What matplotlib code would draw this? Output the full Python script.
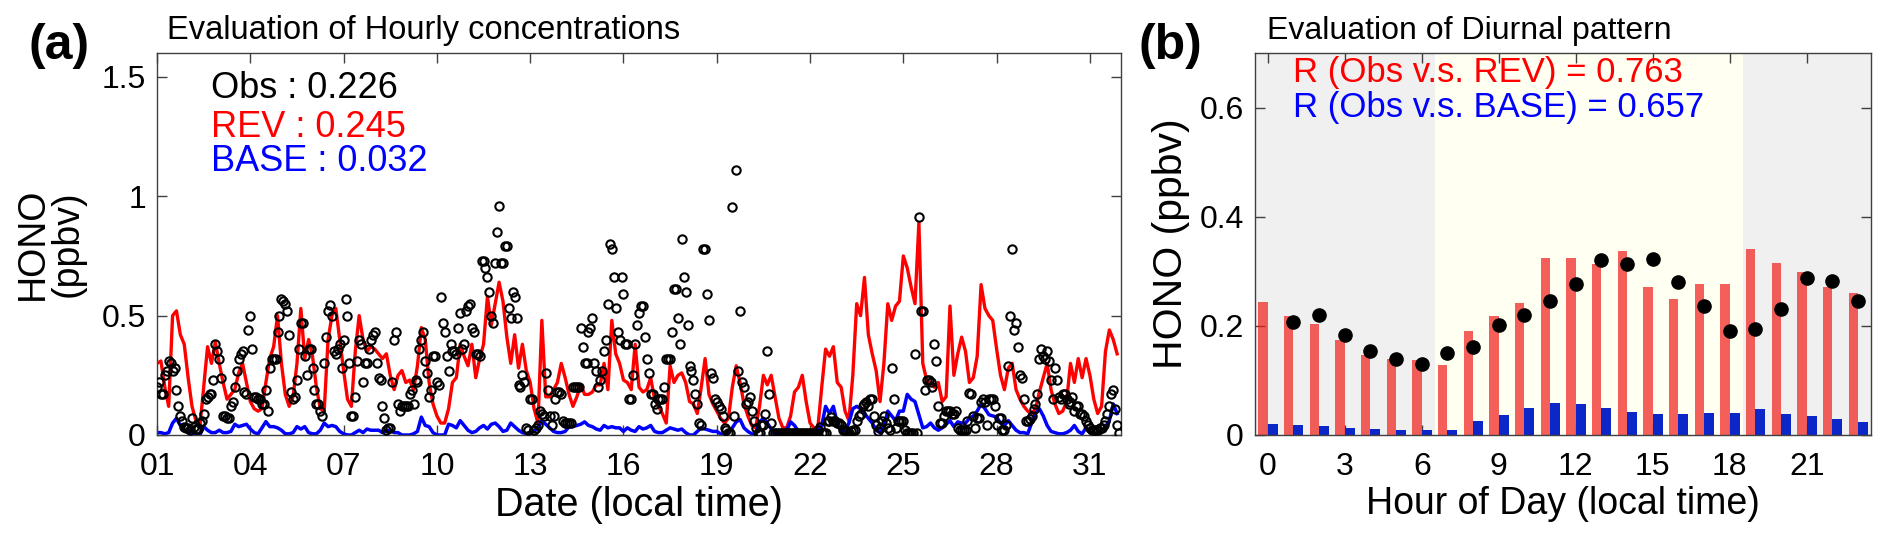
import numpy as np
import matplotlib
matplotlib.use("Agg")
import matplotlib.pyplot as plt

plt.rcParams['font.family'] = ['Liberation Sans', 'DejaVu Sans']

# ---------------- panel (a): hourly series, read every 3 h -----------------
days = list(range(1, 32))
hours3 = [0, 3, 6, 9, 12, 15, 18, 21]

rev = [
    [0.30, 0.31, 0.20, 0.12, 0.50, 0.52, 0.42, 0.38],
    [0.24, 0.12, 0.06, 0.03, 0.20, 0.37, 0.30, 0.39],
    [0.30, 0.22, 0.15, 0.17, 0.19, 0.26, 0.30, 0.22],
    [0.14, 0.11, 0.10, 0.11, 0.22, 0.32, 0.37, 0.50],
    [0.30, 0.17, 0.12, 0.16, 0.30, 0.53, 0.32, 0.40],
    [0.33, 0.20, 0.11, 0.10, 0.40, 0.50, 0.53, 0.40],
    [0.27, 0.15, 0.12, 0.35, 0.50, 0.40, 0.35, 0.37],
    [0.36, 0.34, 0.32, 0.34, 0.25, 0.19, 0.25, 0.27],
    [0.22, 0.23, 0.19, 0.29, 0.45, 0.40, 0.22, 0.13],
    [0.08, 0.05, 0.05, 0.11, 0.22, 0.24, 0.38, 0.33],
    [0.29, 0.38, 0.24, 0.32, 0.38, 0.58, 0.46, 0.55],
    [0.64, 0.56, 0.41, 0.30, 0.42, 0.28, 0.38, 0.27],
    [0.22, 0.11, 0.05, 0.48, 0.16, 0.16, 0.19, 0.22],
    [0.30, 0.24, 0.17, 0.12, 0.16, 0.21, 0.17, 0.17],
    [0.18, 0.21, 0.21, 0.30, 0.19, 0.48, 0.34, 0.30],
    [0.23, 0.22, 0.19, 0.38, 0.20, 0.18, 0.19, 0.24],
    [0.15, 0.12, 0.09, 0.05, 0.29, 0.22, 0.25, 0.26],
    [0.22, 0.14, 0.13, 0.09, 0.20, 0.32, 0.17, 0.13],
    [0.10, 0.07, 0.05, 0.07, 0.20, 0.29, 0.22, 0.13],
    [0.08, 0.04, 0.03, 0.12, 0.25, 0.21, 0.25, 0.16],
    [0.07, 0.03, 0.03, 0.08, 0.18, 0.20, 0.25, 0.14],
    [0.05, 0.03, 0.03, 0.20, 0.36, 0.33, 0.37, 0.22],
    [0.20, 0.10, 0.06, 0.25, 0.55, 0.50, 0.66, 0.42],
    [0.34, 0.27, 0.14, 0.30, 0.55, 0.48, 0.54, 0.56],
    [0.75, 0.70, 0.62, 0.55, 0.89, 0.30, 0.23, 0.22],
    [0.20, 0.22, 0.14, 0.16, 0.54, 0.25, 0.34, 0.41],
    [0.35, 0.22, 0.24, 0.33, 0.63, 0.53, 0.50, 0.48],
    [0.36, 0.25, 0.19, 0.28, 0.30, 0.19, 0.15, 0.12],
    [0.10, 0.09, 0.11, 0.18, 0.24, 0.30, 0.19, 0.13],
    [0.09, 0.10, 0.14, 0.30, 0.22, 0.32, 0.24, 0.32],
    [0.25, 0.15, 0.09, 0.12, 0.35, 0.44, 0.40, 0.34],
]

base = [
    [0.010, 0.010, 0.005, 0.010, 0.050, 0.070, 0.040, 0.020],
    [0.020, 0.005, 0.000, 0.000, 0.035, 0.020, 0.010, 0.010],
    [0.020, 0.010, 0.010, 0.015, 0.045, 0.035, 0.040, 0.045],
    [0.025, 0.010, 0.005, 0.030, 0.056, 0.035, 0.035, 0.030],
    [0.020, 0.005, 0.005, 0.010, 0.035, 0.025, 0.035, 0.010],
    [0.005, 0.005, 0.020, 0.050, 0.035, 0.040, 0.035, 0.015],
    [0.005, 0.000, 0.000, 0.010, 0.020, 0.010, 0.025, 0.020],
    [0.020, 0.020, 0.010, 0.020, 0.020, 0.010, 0.010, 0.000],
    [0.000, 0.000, 0.005, 0.015, 0.075, 0.040, 0.035, 0.010],
    [0.000, 0.000, 0.000, 0.045, 0.040, 0.030, 0.060, 0.040],
    [0.020, 0.010, 0.015, 0.030, 0.040, 0.025, 0.045, 0.050],
    [0.035, 0.015, 0.020, 0.050, 0.035, 0.020, 0.010, 0.005],
    [0.010, 0.015, 0.030, 0.060, 0.045, 0.030, 0.015, 0.010],
    [0.010, 0.015, 0.035, 0.035, 0.040, 0.045, 0.055, 0.040],
    [0.035, 0.025, 0.020, 0.040, 0.030, 0.035, 0.030, 0.030],
    [0.015, 0.030, 0.020, 0.015, 0.035, 0.025, 0.030, 0.040],
    [0.015, 0.010, 0.010, 0.020, 0.030, 0.025, 0.020, 0.025],
    [0.010, 0.000, 0.000, 0.015, 0.030, 0.025, 0.020, 0.015],
    [0.015, 0.005, 0.000, 0.010, 0.030, 0.055, 0.065, 0.030],
    [0.015, 0.005, 0.000, 0.055, 0.070, 0.050, 0.025, 0.005],
    [0.000, 0.010, 0.020, 0.055, 0.040, 0.015, 0.000, 0.000],
    [0.000, 0.000, 0.015, 0.040, 0.120, 0.090, 0.120, 0.050],
    [0.015, 0.020, 0.050, 0.110, 0.120, 0.110, 0.090, 0.070],
    [0.050, 0.020, 0.010, 0.035, 0.100, 0.080, 0.060, 0.100],
    [0.100, 0.170, 0.150, 0.140, 0.085, 0.030, 0.035, 0.050],
    [0.030, 0.020, 0.030, 0.045, 0.060, 0.035, 0.055, 0.050],
    [0.050, 0.070, 0.080, 0.100, 0.130, 0.110, 0.085, 0.080],
    [0.075, 0.050, 0.040, 0.060, 0.040, 0.020, 0.010, 0.010],
    [0.005, 0.050, 0.090, 0.110, 0.080, 0.040, 0.015, 0.010],
    [0.005, 0.005, 0.010, 0.020, 0.040, 0.015, 0.005, 0.030],
    [0.010, 0.005, 0.005, 0.010, 0.035, 0.060, 0.130, 0.090],
]

# observations on the 3-hour grid (hh:00) ...
obs = [
    [0.20, 0.17, 0.25, 0.31, 0.27, 0.19, 0.08, 0.035],
    [0.03, 0.07, 0.025, 0.05, 0.09, 0.16, 0.17, 0.38],
    [0.32, 0.08, 0.07, 0.12, 0.20, 0.32, 0.35, 0.17],
    [0.50, 0.16, 0.15, 0.13, 0.19, 0.28, 0.32, 0.43],
    [0.57, 0.55, 0.42, 0.15, 0.23, 0.47, 0.33, 0.36],
    [0.28, 0.13, 0.10, 0.30, 0.52, 0.50, 0.34, 0.38],
    [0.40, 0.50, 0.08, 0.16, 0.40, 0.22, 0.30, 0.40],
    [0.43, 0.24, 0.12, 0.02, 0.03, 0.40, 0.13, 0.12],
    [0.12, 0.17, 0.13, 0.22, 0.40, 0.31, 0.16, 0.33],
    [0.22, 0.58, 0.43, 0.27, 0.35, 0.34, 0.51, 0.38],
    [0.54, 0.45, 0.34, 0.33, 0.73, 0.66, 0.50, 0.72],
    [0.96, 0.72, 0.79, 0.49, 0.58, 0.21, 0.25, 0.03],
    [0.15, 0.02, 0.04, 0.09, 0.26, 0.08, 0.08, 0.18],
    [0.17, 0.05, 0.05, 0.20, 0.20, 0.45, 0.30, 0.43],
    [0.49, 0.27, 0.23, 0.35, 0.55, 0.78, 0.53, 0.40],
    [0.59, 0.38, 0.15, 0.38, 0.51, 0.54, 0.32, 0.17],
    [0.13, 0.15, 0.15, 0.32, 0.32, 0.61, 0.49, 0.82],
    [0.60, 0.29, 0.23, 0.13, 0.04, 0.78, 0.48, 0.24],
    [0.14, 0.11, 0.03, 0.01, 0.955, 1.11, 0.52, 0.20],
    [0.14, 0.10, 0.03, 0.01, 0.04, 0.35, 0.05, 0.01],
    [0.01, 0.01, 0.01, 0.01, 0.01, 0.01, 0.01, 0.01],
    [0.01, 0.01, 0.02, 0.01, 0.01, 0.06, 0.06, 0.05],
    [0.04, 0.02, 0.01, 0.02, 0.06, 0.09, 0.13, 0.12],
    [0.15, 0.04, 0.03, 0.08, 0.03, 0.28, 0.03, 0.06],
    [0.06, 0.01, 0.01, 0.34, 0.915, 0.52, 0.23, 0.22],
    [0.38, 0.12, 0.05, 0.10, 0.10, 0.09, 0.03, 0.02],
    [0.02, 0.175, 0.08, 0.07, 0.14, 0.14, 0.15, 0.15],
    [0.04, 0.07, 0.02, 0.29, 0.78, 0.47, 0.25, 0.15],
    [0.06, 0.08, 0.13, 0.32, 0.33, 0.35, 0.23, 0.28],
    [0.16, 0.17, 0.15, 0.14, 0.10, 0.12, 0.09, 0.06],
    [0.03, 0.02, 0.02, 0.03, 0.06, 0.12, 0.19, 0.04],
]

# ... and the circles in between (hh:30, 1.5 h later)
obs_mid = [
    [0.22, 0.17, 0.27, 0.30, 0.28, 0.12, 0.06, 0.03],
    [0.02, 0.035, 0.025, 0.06, 0.15, 0.17, 0.23, 0.35],
    [0.24, 0.08, 0.07, 0.14, 0.27, 0.34, 0.18, 0.44],
    [0.36, 0.16, 0.15, 0.13, 0.10, 0.32, 0.32, 0.50],
    [0.56, 0.52, 0.18, 0.16, 0.36, 0.47, 0.25, 0.36],
    [0.19, 0.13, 0.08, 0.41, 0.545, 0.35, 0.36, 0.28],
    [0.57, 0.30, 0.08, 0.31, 0.38, 0.30, 0.36, 0.42],
    [0.30, 0.23, 0.07, 0.03, 0.22, 0.43, 0.10, 0.12],
    [0.12, 0.19, 0.23, 0.36, 0.43, 0.26, 0.19, 0.33],
    [0.21, 0.47, 0.33, 0.38, 0.35, 0.45, 0.36, 0.52],
    [0.55, 0.43, 0.34, 0.73, 0.70, 0.60, 0.47, 0.85],
    [0.72, 0.79, 0.53, 0.60, 0.49, 0.20, 0.22, 0.02],
    [0.15, 0.03, 0.10, 0.08, 0.19, 0.04, 0.15, 0.18],
    [0.06, 0.05, 0.05, 0.20, 0.20, 0.37, 0.30, 0.45],
    [0.30, 0.20, 0.27, 0.40, 0.80, 0.66, 0.43, 0.66],
    [0.38, 0.15, 0.25, 0.46, 0.54, 0.41, 0.26, 0.17],
    [0.11, 0.15, 0.20, 0.32, 0.43, 0.61, 0.38, 0.66],
    [0.46, 0.27, 0.17, 0.05, 0.78, 0.59, 0.26, 0.15],
    [0.12, 0.08, 0.02, 0.01, 0.08, 0.27, 0.22, 0.13],
    [0.16, 0.06, 0.01, 0.04, 0.09, 0.17, 0.01, 0.01],
    [0.01, 0.01, 0.01, 0.01, 0.01, 0.01, 0.01, 0.01],
    [0.01, 0.01, 0.035, 0.01, 0.06, 0.075, 0.06, 0.05],
    [0.02, 0.015, 0.015, 0.02, 0.08, 0.12, 0.14, 0.15],
    [0.08, 0.015, 0.06, 0.05, 0.02, 0.15, 0.06, 0.06],
    [0.02, 0.01, 0.01, 0.01, 0.52, 0.19, 0.23, 0.20],
    [0.31, 0.05, 0.08, 0.10, 0.09, 0.10, 0.02, 0.02],
    [0.06, 0.17, 0.03, 0.07, 0.15, 0.04, 0.15, 0.12],
    [0.07, 0.02, 0.04, 0.50, 0.44, 0.37, 0.24, 0.06],
    [0.065, 0.11, 0.17, 0.36, 0.32, 0.31, 0.15, 0.23],
    [0.15, 0.17, 0.13, 0.16, 0.12, 0.09, 0.08, 0.04],
    [0.02, 0.02, 0.03, 0.04, 0.09, 0.17, 0.11, 0.01],
]

mean_labels = ["Obs : 0.226", "REV : 0.245", "BASE : 0.032"]

# ---------------- panel (b): diurnal means ----------------
hod = list(range(24))
rev_diurnal = [0.244, 0.218, 0.204, 0.174, 0.147, 0.139, 0.138, 0.128,
               0.191, 0.218, 0.242, 0.324, 0.325, 0.313, 0.338, 0.272,
               0.249, 0.276, 0.277, 0.341, 0.316, 0.298, 0.272, 0.260]
base_diurnal = [0.020, 0.018, 0.016, 0.013, 0.011, 0.010, 0.010, 0.010,
                0.026, 0.036, 0.049, 0.059, 0.056, 0.050, 0.042, 0.038,
                0.038, 0.041, 0.041, 0.047, 0.038, 0.034, 0.029, 0.024]
obs_diurnal = [np.nan, 0.207, 0.219, 0.184, 0.154, 0.140, 0.130, 0.150,
               0.162, 0.201, 0.220, 0.246, 0.276, 0.320, 0.313, 0.322,
               0.281, 0.236, 0.191, 0.195, 0.231, 0.287, 0.283, 0.245]
r_labels = ["R (Obs v.s. REV) = 0.763", "R (Obs v.s. BASE) = 0.657"]

# flatten the 3-hourly tables onto a time axis in days
t = np.array([d + h / 24 for d in days for h in hours3])
t_mid = np.array([d + (h + 1.5) / 24 for d in days for h in hours3])
rev_s = np.array(rev).ravel()
base_s = np.array(base).ravel()
obs_t = np.concatenate([t, t_mid])
obs_s = np.concatenate([np.array(obs).ravel(), np.array(obs_mid).ravel()])

fig = plt.figure(figsize=(18.92, 5.46), dpi=100)
ax1 = fig.add_axes([0.0830, 0.2033, 0.5095, 0.6996])
ax2 = fig.add_axes([0.6633, 0.2033, 0.3256, 0.6996])

frame = '0.25'
for ax in (ax1, ax2):
    for s in ax.spines.values():
        s.set_color(frame)
        s.set_linewidth(1.0)
    ax.tick_params(direction='in', length=7, width=1.0, colors=frame,
                   labelcolor='black', labelsize=23, top=True, right=True)
    ax.tick_params(axis='x', pad=12)
    ax.tick_params(axis='y', pad=8)

# panel a
ax1.plot(t, rev_s, color='red', lw=2.4, zorder=2)
ax1.plot(t, base_s, color='blue', lw=2.5, zorder=2)
ax1.plot(obs_t, obs_s, ls='none', marker='o', ms=6, mfc='none', mec='black',
         mew=1.5, zorder=3)
ax1.set_xlim(1, 32)
ax1.set_ylim(0, 1.6)
ax1.set_xticks(days[::3])
ax1.set_xticklabels(['%02d' % d for d in days[::3]])
ax1.set_yticks([0, 0.5, 1, 1.5])
ax1.set_yticklabels(['0', '0.5', '1', '1.5'])
ax1.set_xlabel('Date (local time)', fontsize=28.5, labelpad=3)
ax1.set_ylabel('HONO\n(ppbv)', fontsize=27, linespacing=0.95)
ax1.yaxis.set_label_coords(-0.074, 0.5)
for lab, col, yy in zip(mean_labels, ['black', 'red', 'blue'], [1.45, 1.29, 1.145]):
    ax1.text(2.75, yy, lab, color=col, fontsize=26, va='center', ha='left')
ax1.text(0.01, 1.058, 'Evaluation of Hourly concentrations', transform=ax1.transAxes,
         fontsize=23.5, va='center', ha='left')
fig.text(59 / 1892, 1 - 46 / 546, '(a)', fontsize=36, fontweight='bold',
         va='center', ha='center')

# panel b
ax2.axvspan(-0.5, 6.5, color='#f0f0f0', lw=0, zorder=0)
ax2.axvspan(6.5, 18.5, color='#fffff2', lw=0, zorder=0)
ax2.axvspan(18.5, 23.5, color='#f0f0f0', lw=0, zorder=0)
x = np.array(hod)
ax2.bar(x - 0.19, rev_diurnal, width=0.37, color='#f0231e', alpha=0.72, lw=0, zorder=2)
ax2.bar(x + 0.19, base_diurnal, width=0.38, color='#0b27c7', lw=0, zorder=2)
ax2.plot(x, obs_diurnal, ls='none', marker='o', ms=9.5, color='black', zorder=3)
ax2.set_xlim(-0.5, 23.5)
ax2.set_ylim(0, 0.7)
ax2.set_xticks(hod[::3])
ax2.set_yticks([0, 0.2, 0.4, 0.6])
ax2.set_yticklabels(['0', '0.2', '0.4', '0.6'])
ax2.set_xlabel('Hour of Day (local time)', fontsize=27, labelpad=3)
ax2.set_ylabel('HONO (ppbv)', fontsize=29.5)
ax2.yaxis.set_label_coords(-0.105, 0.5)
ax2.text(1.0, 0.664, r_labels[0], color='red', fontsize=25, va='center', ha='left')
ax2.text(1.0, 0.601, r_labels[1], color='blue', fontsize=25, va='center', ha='left')
ax2.text(0.02, 1.058, 'Evaluation of Diurnal pattern', transform=ax2.transAxes,
         fontsize=23, va='center', ha='left')
fig.text(1170 / 1892, 1 - 46 / 546, '(b)', fontsize=36, fontweight='bold',
         va='center', ha='center')

fig.savefig('out.png', dpi=100)
